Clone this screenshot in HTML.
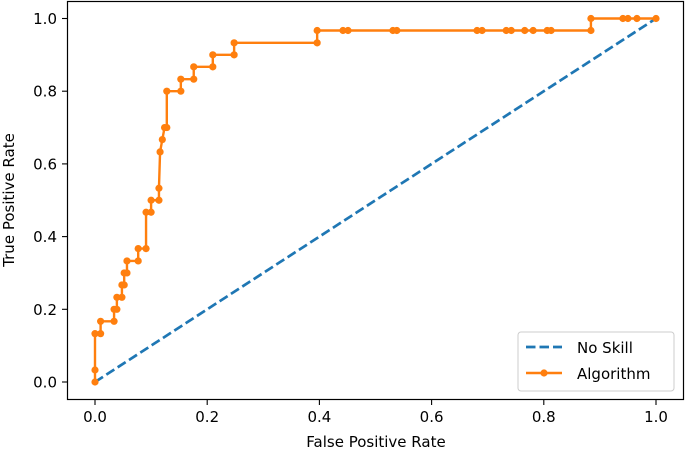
<!DOCTYPE html>
<html><head><meta charset="utf-8"><style>
body{margin:0;background:#fff;}
svg{display:block;font-family:"DejaVu Sans","Liberation Sans",sans-serif;}
</style></head><body>
<svg id="chart" width="685" height="453" viewBox="0 0 685 453" xmlns="http://www.w3.org/2000/svg"></svg>
<script>
const xTicks=[0,0.2,0.4,0.6,0.8,1.0];
const xTickLabels=["0.0","0.2","0.4","0.6","0.8","1.0"];
const yTicks=[0,0.2,0.4,0.6,0.8,1.0];
const yTickLabels=["0.0","0.2","0.4","0.6","0.8","1.0"];
const noSkillFpr=[0,1];
const noSkillTpr=[0,1];
const algoFpr=[0,0,0,0.010,0.010,0.034,0.034,0.039,0.039,0.048,0.048,0.052,0.052,0.057,0.057,0.077,0.077,0.091,0.091,0.100,0.100,0.114,0.114,0.116,0.120,0.124,0.128,0.128,0.153,0.153,0.176,0.176,0.210,0.210,0.248,0.248,0.396,0.396,0.442,0.451,0.531,0.538,0.681,0.690,0.733,0.742,0.766,0.781,0.806,0.813,0.884,0.884,0.941,0.950,0.966,1.0];
const algoTpr=[0,0.033,0.133,0.133,0.167,0.167,0.2,0.2,0.233,0.233,0.267,0.267,0.3,0.3,0.333,0.333,0.367,0.367,0.467,0.467,0.5,0.5,0.533,0.633,0.667,0.7,0.7,0.8,0.8,0.833,0.833,0.867,0.867,0.9,0.9,0.933,0.933,0.967,0.967,0.967,0.967,0.967,0.967,0.967,0.967,0.967,0.967,0.967,0.967,0.967,0.967,1.0,1.0,1.0,1.0,1.0];
const NS="http://www.w3.org/2000/svg";
const svg=document.getElementById('chart');
const X0=95,X1=656,Y0=382,Y1=18.5;
function sx(v){return X0+(X1-X0)*v;}
function sy(v){return Y0-(Y0-Y1)*v;}
function mk(t,a,p){const e=document.createElementNS(NS,t);for(const k in a)e.setAttribute(k,a[k]);(p||svg).appendChild(e);return e;}
const frame=mk('rect',{x:67.5,y:1.5,width:616,height:398,fill:'none',stroke:'#000','stroke-width':1.2});


xTicks.forEach((v,i)=>{
 const t=mk('line',{x1:sx(v),x2:sx(v),y1:400,y2:405,stroke:'#000','stroke-width':1.1});
 
 
 const l=mk('text',{x:sx(v),y:422,'text-anchor':'middle','font-size':15,fill:'#000'});
 l.textContent=xTickLabels[i];
 
 
});
yTicks.forEach((v,i)=>{
 const t=mk('line',{x1:62,x2:67,y1:sy(v),y2:sy(v),stroke:'#000','stroke-width':1.1});
 
 
 const l=mk('text',{x:57,y:sy(v)+5.5,'text-anchor':'end','font-size':15,fill:'#000'});
 l.textContent=yTickLabels[i];
 
 
});
const xt=mk('text',{x:376,y:447,'text-anchor':'middle','font-size':15,fill:'#000'});
xt.textContent='False Positive Rate';


const yt=mk('text',{x:0,y:0,'text-anchor':'middle','font-size':15,fill:'#000',transform:'translate(14,200) rotate(-90)'});
yt.textContent='True Positive Rate';


const ns=mk('polyline',{points:noSkillFpr.map((v,i)=>sx(v)+','+sy(noSkillTpr[i])).join(' '),fill:'none',stroke:'#1f77b4','stroke-width':2.7,'stroke-dasharray':'9.5,4'});


const al=mk('polyline',{points:algoFpr.map((v,i)=>sx(v)+','+sy(algoTpr[i])).join(' '),fill:'none',stroke:'#ff7f0e','stroke-width':2.4,'stroke-linejoin':'round'});


algoFpr.forEach((v,i)=>{
 const c=mk('circle',{cx:sx(v),cy:sy(algoTpr[i]),r:3.6,fill:'#ff7f0e'});
 
 
});
const lg=mk('g',{});


mk('rect',{x:518,y:332,width:156,height:59,rx:3,fill:'#fff','fill-opacity':0.8,stroke:'#ccc','stroke-width':1},lg);
const l1=mk('line',{x1:526,x2:562,y1:347,y2:347,stroke:'#1f77b4','stroke-width':2.7,'stroke-dasharray':'9.5,4'},lg);


const t1=mk('text',{x:577,y:353,'font-size':15,fill:'#000'},lg);
t1.textContent='No Skill';


const l2=mk('line',{x1:526,x2:562,y1:373,y2:373,stroke:'#ff7f0e','stroke-width':2.4},lg);


mk('circle',{cx:544,cy:373,r:3.6,fill:'#ff7f0e'},lg);
const t2=mk('text',{x:577,y:379,'font-size':15,fill:'#000'},lg);
t2.textContent='Algorithm';


</script>
</body></html>
